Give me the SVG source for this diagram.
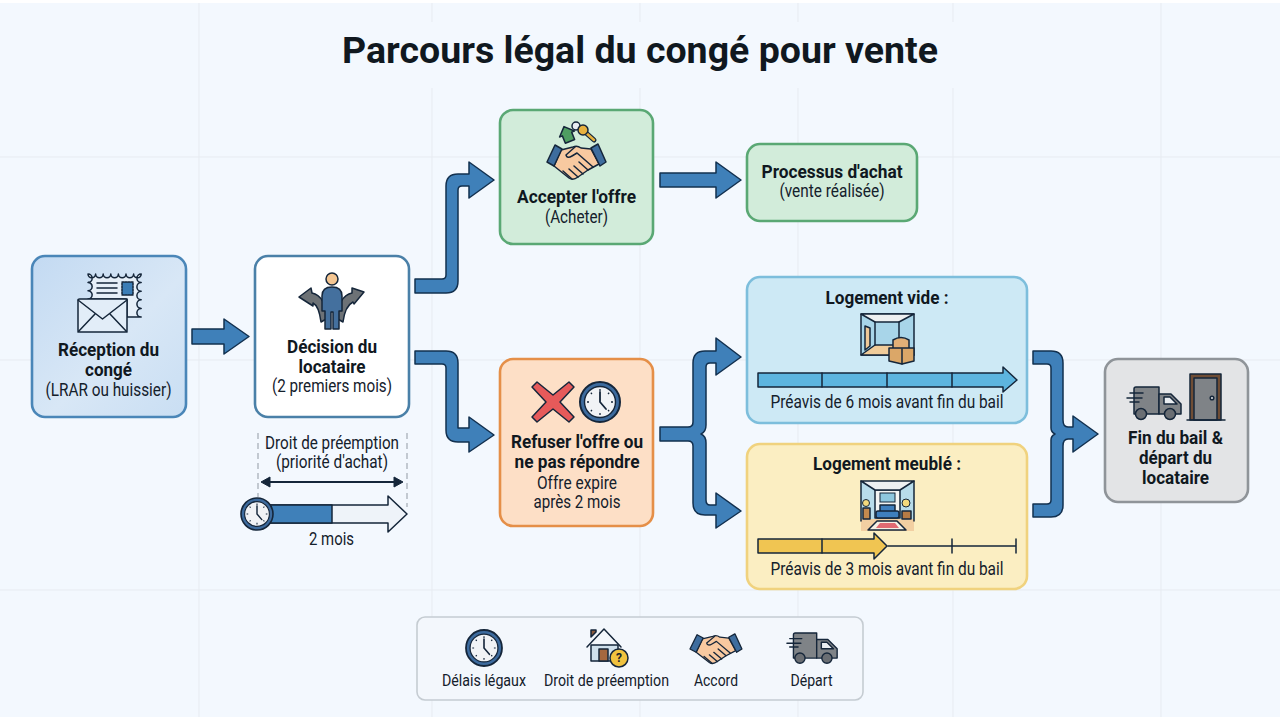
<svg xmlns="http://www.w3.org/2000/svg" width="1280" height="720" viewBox="0 0 1280 720">
<style>
text{font-family:Roboto,"Liberation Sans",sans-serif;fill:#14202b;text-anchor:middle;font-size:18px}
.b{font-weight:700;fill:#10181f}
.r{font-weight:400}
.leg{font-size:16.500px}
.grid{stroke:#e7ebf1;stroke-width:1;fill:none}
.box{stroke-width:2.600}
.flow{fill:#3f80b9;stroke:#12304f;stroke-width:1.500;stroke-linejoin:round}
.ink{stroke:#15263a;stroke-width:1.500;stroke-linejoin:round;stroke-linecap:round}
.nofill{fill:none}
</style>
<defs>
<linearGradient id="blueFill" x1="0" y1="0" x2="1" y2="1"><stop offset="0" stop-color="#c3daf2"/><stop offset="0.55" stop-color="#d8e7f6"/><stop offset="1" stop-color="#c9def3"/></linearGradient>
<g id="clock">
<circle r="20" fill="#3d6b9e" stroke="#15263a" stroke-width="2"/>
<circle r="15.500" fill="#f1f3f6" stroke="#15263a" stroke-width="1.400"/>
<path d="M0-13V-11M0 13V11M-13 0H-11M13 0H11M-9.200-9.200L-8-8M9.200-9.200L8-8M-9.200 9.200L-8 8M9.200 9.200L8 8" stroke="#15263a" stroke-width="1.300" fill="none"/>
<path d="M0-10V0L6 7" stroke="#15263a" stroke-width="1.800" fill="none" stroke-linecap="round"/>
</g>
<g id="shake">
<path class="ink" d="M14 7L26 4Q30 2 34 5L44 6L52 21L41 27L31 34Q26 38 22 35L7 23Z" fill="#f8c9a0"/>
<path class="ink nofill" d="M28 4L19 12Q20 16 25 13L30 10L46 24M41 27L32 19M36 31L27 23M31 34L22 26M25 36L16 28"/>
<path class="ink" d="M0 19L8 2L15 6L7 23Z" fill="#3e6d9e"/>
<path class="ink" d="M44 5L51 1L59 19L53 23Z" fill="#3e6d9e"/>
</g>
<g id="truck">
<path class="ink" d="M8 2Q8 0 10 0H33V27H8Z" fill="#7f8387"/>
<path class="ink" d="M33 7H45L55 17V27H33Z" fill="#7f8387"/>
<path class="ink" d="M38 10H44L51 17H38Z" fill="#e9edf1"/>
<path class="ink nofill" d="M4 6H17M1 11H16M4 15H13"/>
<circle class="ink" cx="15" cy="27" r="5.500" fill="#6a6e73"/>
<circle class="ink" cx="44" cy="27" r="5.500" fill="#6a6e73"/>
</g>
</defs>

<rect width="1280" height="720" fill="#ffffff"/>
<rect y="3" width="1280" height="714" fill="#f3f8fe"/>

<!-- background grid -->
<g class="grid" id="grid">
<path d="M199 3V717M1161 3V717M0 157H1280M0 360H1280M0 590H1280"/>
<path d="M432 3V22M432 88V717M640 3V22M640 88V717M798 3V22M798 88V717M953 3V22M953 88V717"/>
</g>

<text class="b" x="640" y="63" style="font-size:37px" textLength="596" lengthAdjust="spacingAndGlyphs">Parcours légal du congé pour vente</text>

<g id="connectors">
<path class="flow" d="M192 329H224V319L249 336.500L224 354V344H192Z"/>
<path class="flow" d="M415 279H442Q446 279 446 275V186Q446 174 458 174H469V162L494 180L469 198V186H462Q458 186 458 190V281Q458 293 446 293H415Z"/>
<path class="flow" d="M415 351H446Q458 351 458 363V428H469V417L494 435L469 452V442H458Q446 442 446 430V368Q446 364 442 364H415Z"/>
<path class="flow" d="M660 173H716V162L741 180L716 198V187H660Z"/>
<path class="flow" d="M660 427H688Q693 427 693 422V363Q693 351 705 351H716V338L741 357L716 375V363H710Q706 363 706 367V425Q706 432 701 434Q706 436 706 443V500Q706 505 710 505H716V493L741 511L716 528V515H705Q693 515 693 503V446Q693 441 688 441H660Z"/>
<path class="flow" d="M1033 351H1051Q1063 351 1063 363V420Q1063 427 1068 427H1073V416L1098 434L1073 452V439H1068Q1063 439 1063 446V505Q1063 517 1051 517H1033V504H1047Q1051 504 1051 500V440Q1051 436 1055 434Q1051 432 1051 428V368Q1051 364 1047 364H1033Z"/>
</g>

<g id="reception">
<rect class="box" x="32" y="256" width="154" height="161" rx="13" fill="url(#blueFill)" stroke="#4a86b8"/>
<path class="ink" d="M88 274a3.800 3.800 0 0 0 7.600 0a3.800 3.800 0 0 0 7.600 0a3.800 3.800 0 0 0 7.600 0a3.800 3.800 0 0 0 7.600 0a3.800 3.800 0 0 0 7.600 0a3.800 3.800 0 0 0 7.600 0a3.800 3.800 0 0 0 7.600 0a3 3 0 0 0 0 8.600a3 3 0 0 0 0 8.600a3 3 0 0 0 0 8.600a3 3 0 0 0 0 8.600a3 3 0 0 0 0 8.600H127V299H88a3 3 0 0 0 0-8.300a3 3 0 0 0 0-8.300a3 3 0 0 0 0-8.400Z" fill="#e6eff8"/>
<rect class="ink" x="122" y="282" width="11" height="13" fill="#3b7db6" stroke-dasharray="2 1"/>
<path class="ink nofill" d="M97 283H117M97 288H117M97 293H117"/>
<rect class="ink" x="78" y="299" width="49" height="33" rx="1.500" fill="#e2edf8"/>
<path class="ink nofill" d="M78 300L102.500 319L127 300M78 332L95 314M127 332L110 314"/>
<text class="b" x="108.500" y="356" textLength="101" lengthAdjust="spacingAndGlyphs">Réception du</text>
<text class="b" x="108.500" y="376" textLength="47" lengthAdjust="spacingAndGlyphs">congé</text>
<text class="r" x="108.500" y="396" textLength="126" lengthAdjust="spacingAndGlyphs">(LRAR ou huissier)</text>
</g>

<g id="decision">
<rect class="box" x="255" y="256" width="154" height="161" rx="13" fill="#ffffff" stroke="#4a80a8"/>
<path class="ink" d="M299 297L311 288L312 293Q325 296 328 318L321 322Q319 306 313 303V306Z" fill="#6d7276"/>
<path class="ink" d="M364 292L352 288V293Q339 296 336 318L343 322Q345 306 353 302L354 304Z" fill="#6d7276"/>
<path class="ink" d="M322 311V296Q322 287 332 287Q342 287 342 296V311H339V329H333V312H331V329H325V311Z" fill="#44709e"/>
<circle class="ink" cx="332" cy="279" r="6" fill="#f4c692"/>
<text class="b" x="332" y="353" textLength="90" lengthAdjust="spacingAndGlyphs">Décision du</text>
<text class="b" x="332" y="373" textLength="67" lengthAdjust="spacingAndGlyphs">locataire</text>
<text class="r" x="332" y="392" textLength="120" lengthAdjust="spacingAndGlyphs">(2 premiers mois)</text>
</g>

<g id="preemption">
<path d="M258 433V497M407 433V507" stroke="#a3abb3" stroke-width="1.200" stroke-dasharray="6 4" fill="none"/>
<text class="r" x="332" y="449" textLength="134" lengthAdjust="spacingAndGlyphs">Droit de préemption</text>
<text class="r" x="332" y="468" textLength="112" lengthAdjust="spacingAndGlyphs">(priorité d'achat)</text>
<path d="M268 482H396" stroke="#15263a" stroke-width="1.800"/>
<path d="M261 482L270 477V487ZM403 482L394 477V487Z" fill="#15263a" stroke="#15263a"/>
<path class="ink" d="M270 505H388V496L407 514L388 532V523H270Z" fill="#eef3f9"/>
<rect class="ink" x="270" y="505" width="62" height="18" fill="#3f80b9"/>
<use href="#clock" transform="translate(257 514) scale(.8)"/>
<text class="r" x="331.500" y="545" textLength="45" lengthAdjust="spacingAndGlyphs">2 mois</text>
</g>

<g id="accepter">
<rect class="box" x="500" y="110" width="153" height="134" rx="13" fill="#d2ecda" stroke="#5aa874"/>
<path class="ink" d="M-8 0L0-8L8 0H5V8H-5V0Z" transform="translate(567 134) rotate(-22)" fill="#4f9e62"/>
<circle class="ink" cx="576" cy="126" r="4" fill="#e8edf2"/>
<path d="M585 132L594 140" stroke="#15263a" stroke-width="5" stroke-linecap="round"/>
<path d="M585 132L594 140" stroke="#e7b13f" stroke-width="2.500" stroke-linecap="round"/>
<circle class="ink" cx="583" cy="130" r="5" fill="#e7b13f"/>
<use href="#shake" transform="translate(547 143)"/>
<text class="b" x="576.500" y="203" textLength="119" lengthAdjust="spacingAndGlyphs">Accepter l'offre</text>
<text class="r" x="576.500" y="223" textLength="63" lengthAdjust="spacingAndGlyphs">(Acheter)</text>
</g>

<g id="achat">
<rect class="box" x="747" y="144" width="170" height="77" rx="13" fill="#d2ecda" stroke="#5aa874"/>
<text class="b" x="832" y="178" textLength="141" lengthAdjust="spacingAndGlyphs">Processus d'achat</text>
<text class="r" x="832" y="197" textLength="105" lengthAdjust="spacingAndGlyphs">(vente réalisée)</text>
</g>

<g id="refuser">
<rect class="box" x="500" y="359" width="153" height="167" rx="13" fill="#fddfc6" stroke="#e58f48"/>
<path class="ink" d="M537 382L553 395L569 382L574 387L560 402L574 417L569 422L553 409L537 422L532 417L546 402L532 387Z" fill="#e65a5a"/>
<use href="#clock" transform="translate(600 402)"/>
<text class="b" x="577" y="448" textLength="132" lengthAdjust="spacingAndGlyphs">Refuser l'offre ou</text>
<text class="b" x="577" y="468" textLength="125" lengthAdjust="spacingAndGlyphs">ne pas répondre</text>
<text class="r" x="577" y="489" textLength="80" lengthAdjust="spacingAndGlyphs">Offre expire</text>
<text class="r" x="577" y="508" textLength="87" lengthAdjust="spacingAndGlyphs">après 2 mois</text>
</g>

<g id="vide">
<rect class="box" x="747" y="277" width="280" height="146" rx="13" fill="#cde9f5" stroke="#7dbedc"/>
<text class="b" x="887" y="304" textLength="123" lengthAdjust="spacingAndGlyphs">Logement vide :</text>
<rect class="ink" x="861" y="314" width="53" height="41" fill="#a8d5e9"/>
<path class="ink" d="M861 314H914L899 322H875Z" fill="#eef0f1"/>
<path class="ink" d="M861 355L875 345H899L914 355Z" fill="#f0cc9a"/>
<path class="ink nofill" d="M875 322V345M899 322V345"/>
<path class="ink" d="M865 350V326L870 328V346Z" fill="#eec898"/>
<path class="ink" d="M893 340Q901 335 909 340V349H893Z" fill="#e2b077"/>
<path class="ink" d="M889 348H914V361L902 364L889 361Z" fill="#dba768"/>
<path class="ink nofill" d="M902 349V364"/>
<path class="ink" d="M758 373H1003V367L1017 380L1003 392V387H758Z" fill="#5db5df"/>
<path class="ink nofill" d="M822 373V387M887 373V387M952 373V387"/>
<text class="r" x="887" y="408" textLength="233" lengthAdjust="spacingAndGlyphs">Préavis de 6 mois avant fin du bail</text>
</g>

<g id="meuble">
<rect class="box" x="747" y="444" width="280" height="145" rx="13" fill="#fbeec2" stroke="#f0d27e"/>
<text class="b" x="887" y="470" textLength="148" lengthAdjust="spacingAndGlyphs">Logement meublé :</text>
<rect x="861" y="481" width="53" height="50" fill="#f2cfa2"/>
<rect x="861" y="481" width="53" height="38" fill="#b8dcea"/>
<rect class="ink" x="875" y="490" width="25" height="28" fill="#f3f4f3"/>
<path class="ink" d="M861 481H914L900 490H875Z" fill="#eef0f1"/>
<path class="ink nofill" d="M861 481V521M914 481V521"/>
<rect x="880" y="493" width="15" height="9" fill="#8ec7de" stroke="#15263a"/>
<rect class="ink" x="880" y="505" width="15" height="8" fill="#3f7fbd"/>
<rect class="ink" x="876" y="511" width="23" height="7" rx="2" fill="#3f7fbd"/>
<rect class="ink" x="863" y="508" width="7" height="11" fill="#c48a4e"/>
<rect class="ink" x="902" y="511" width="9" height="8" fill="#b77b45"/>
<circle cx="866" cy="503" r="3.500" fill="#f3d97c" stroke="#15263a"/>
<circle cx="906" cy="503" r="4" fill="#f3d97c" stroke="#15263a"/>
<path class="ink" d="M868 530L877 521H897L906 530Z" fill="#f5f0e4"/>
<path d="M876 528L880 523H895L899 528Z" fill="#e06a72"/>
<path class="ink" d="M888 546H1016M952 539V553M1016 539V553"/>
<path class="ink" d="M758 539H874V533L887 546L874 559V553H758Z" fill="#f0c552"/>
<path class="ink nofill" d="M822 539V553"/>
<text class="r" x="887" y="575" textLength="233" lengthAdjust="spacingAndGlyphs">Préavis de 3 mois avant fin du bail</text>
</g>

<g id="fin">
<rect class="box" x="1105" y="359" width="143" height="143" rx="13" fill="#e3e4e6" stroke="#8f9499"/>
<use href="#truck" transform="translate(1126 387)"/>
<rect class="ink" x="1190" y="374" width="31" height="46" fill="#6f4d35"/>
<rect class="ink" x="1194" y="378" width="23" height="42" fill="#7f8387"/>
<circle class="ink" cx="1212" cy="398" r="1.800" fill="#d8dbde"/>
<path class="ink nofill" d="M1187 420H1225"/>
<text class="b" x="1175.500" y="444" textLength="95" lengthAdjust="spacingAndGlyphs">Fin du bail &amp;</text>
<text class="b" x="1175.500" y="464" textLength="73" lengthAdjust="spacingAndGlyphs">départ du</text>
<text class="b" x="1175.500" y="484" textLength="67" lengthAdjust="spacingAndGlyphs">locataire</text>
</g>

<g id="legende">
<rect x="417" y="617" width="446" height="83" rx="8" fill="#f3f7fc" stroke="#c5ccd2" stroke-width="1.600"/>
<use href="#clock" transform="translate(484 648) scale(.9)"/>
<path class="ink" d="M591 645V661H618V645Z" fill="#cfe0ec"/>
<path class="ink nofill" d="M587 647L604 629L621 647" stroke-width="2.500"/>
<path class="ink" d="M591 637V630H596V632Z" fill="#8a5a3c"/>
<rect class="ink" x="599" y="649" width="9" height="12" fill="#a5683f"/>
<circle class="ink" cx="619" cy="658" r="9" fill="#f0c23f"/>
<text x="619" y="662" style="font-size:12px;font-weight:700">?</text>
<use href="#shake" transform="translate(690 633) scale(.88 .84)"/>
<use href="#truck" transform="translate(786 633) scale(.93)"/>
<text class="r leg" x="484" y="686" textLength="84" lengthAdjust="spacingAndGlyphs">Délais légaux</text>
<text class="r leg" x="606.500" y="686" textLength="125" lengthAdjust="spacingAndGlyphs">Droit de préemption</text>
<text class="r leg" x="716" y="686" textLength="44" lengthAdjust="spacingAndGlyphs">Accord</text>
<text class="r leg" x="811.500" y="686" textLength="42" lengthAdjust="spacingAndGlyphs">Départ</text>
</g>
</svg>
